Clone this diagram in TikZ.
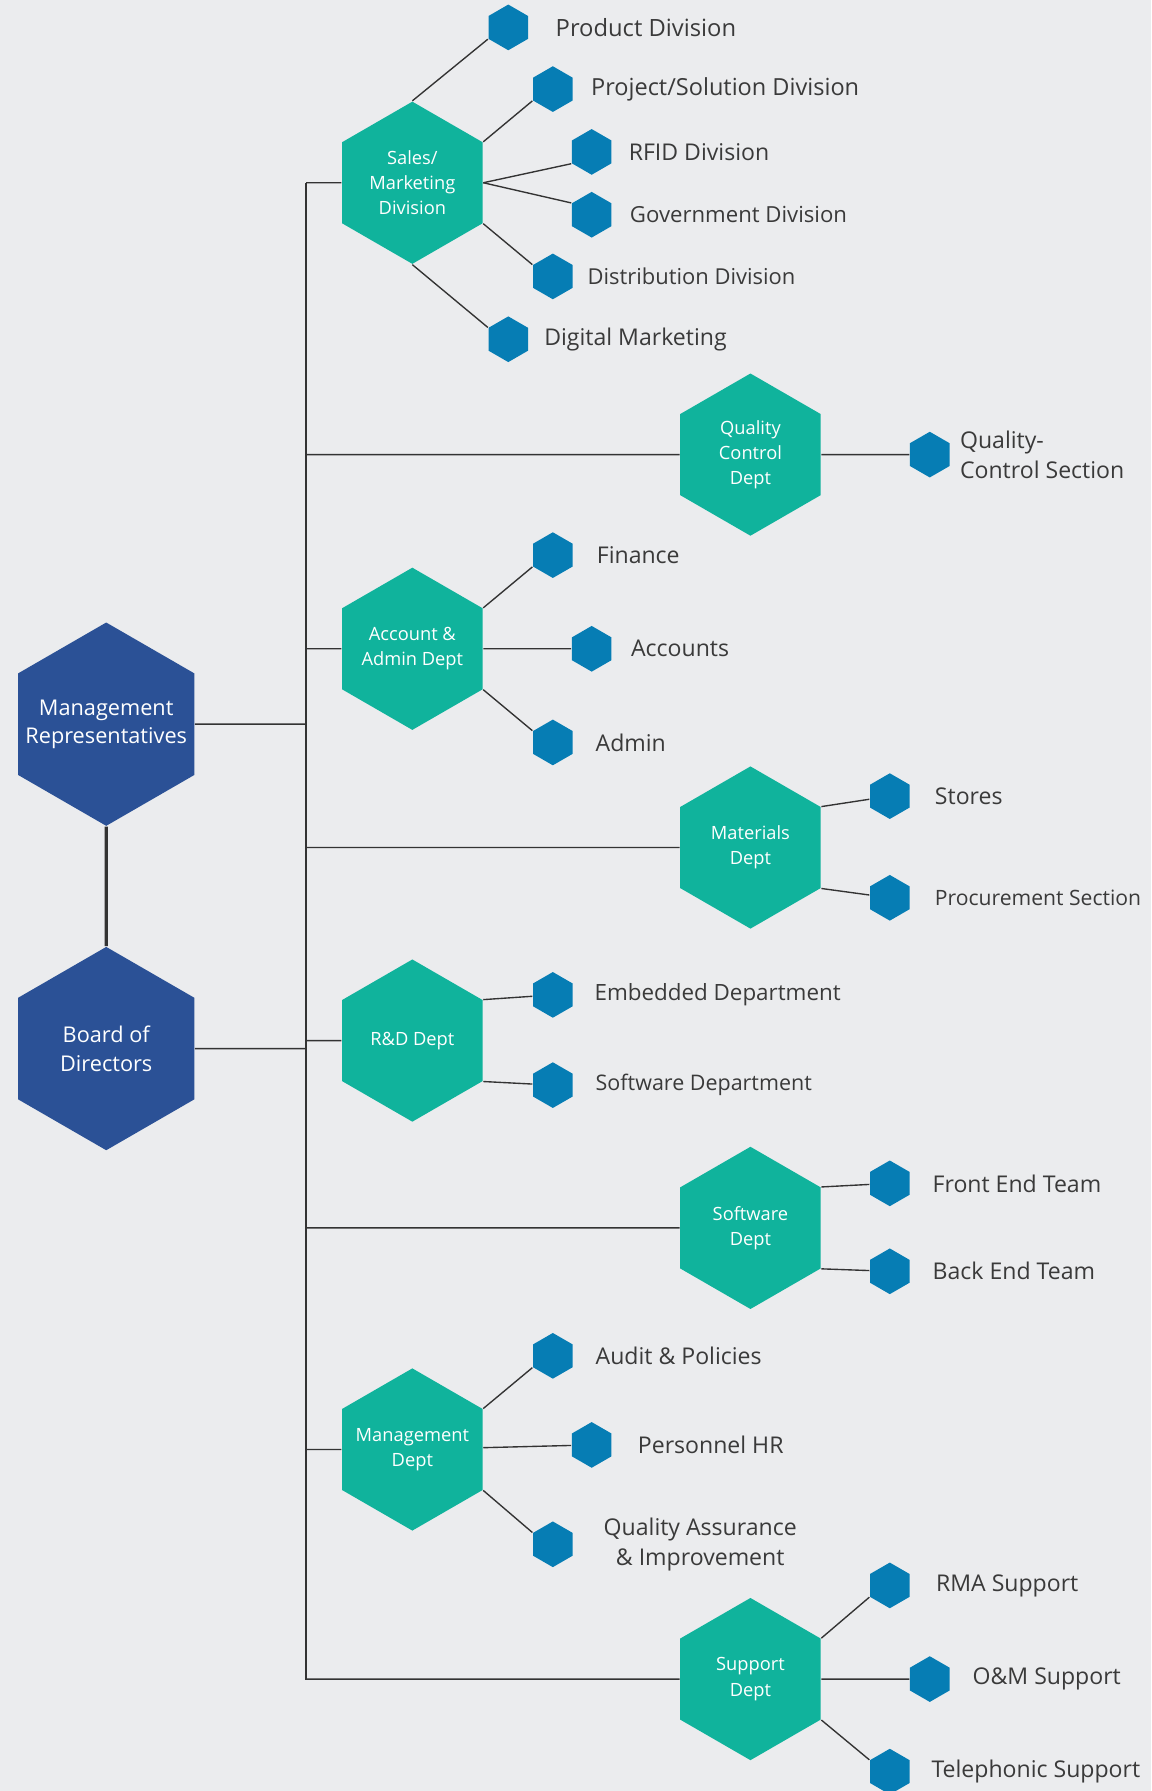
\documentclass[tikz,border=0pt]{standalone}
\usepackage{fontspec}
\setmainfont{Open Sans}
\usetikzlibrary{positioning,shapes.geometric}
\definecolor{bgcol}{HTML}{EBECEE}
\definecolor{navy}{HTML}{2B5196}
\definecolor{tealhex}{HTML}{10B39C}
\definecolor{leafblue}{HTML}{067DB4}
\definecolor{txtgray}{HTML}{3A3A3A}
\definecolor{linegray}{HTML}{333333}

\begin{document}
\begin{tikzpicture}[x=1pt,y=-1pt,line width=1.2pt,draw=linegray,
  hexa/.style={regular polygon,regular polygon sides=6,shape border rotate=30,inner sep=-20pt,align=center,text=white},
  top node/.style={hexa,minimum size=178pt,fill=navy,font=\fontsize{19}{25}\selectfont},
  dept node/.style={hexa,minimum size=142pt,fill=tealhex,font=\fontsize{16}{22}\selectfont},
  leaf node/.style={hexa,on grid,inner sep=0pt,minimum size=40pt,fill=leafblue},
  leaf text/.style={inner sep=0pt,text=txtgray,font=\fontsize{20.2}{26}\selectfont}]

  \fill[bgcol] (0,0) rectangle (1008,1568);
  \useasboundingbox (0,0) rectangle (1008,1568);

  % top of the chart
  \node[top node] (mgmt) at (93,634) {Management\\Representatives};
  \node[top node] (board) at (93,918) {Board of\\Directors};

  % departments
  \node[dept node] (sales) at (361,160) {Sales/\\Marketing\\Division};
  \node[dept node] (quality) at (657,398) {Quality\\Control\\Dept};
  \node[dept node] (account) at (361,568) {Account \&\\Admin Dept};
  \node[dept node] (materials) at (657,742) {Materials\\Dept};
  \node[dept node] (rnd) at (361,911) {R\&D Dept};
  \node[dept node] (software) at (657,1075) {Software\\Dept};
  \node[dept node] (mgmtdept) at (361,1269) {Management\\Dept};
  \node[dept node] (support) at (657,1470) {Support\\Dept};

  \coordinate (tTop) at (268,160);
  \coordinate (tBot) at (268,1471);

  % sales
  \node[leaf node] (prod) [above right=136pt and 84pt of sales] {};
  \node[leaf node] (proj) [above right=82pt and 123pt of sales] {};
  \node[leaf node] (rfid) [above right=27pt and 157pt of sales] {};
  \node[leaf node] (gov) [below right=28pt and 157pt of sales] {};
  \node[leaf node] (dist) [below right=82pt and 123pt of sales] {};
  \node[leaf node] (digi) [below right=137pt and 84pt of sales] {};
  \node[leaf text,font=\fontsize{20.8}{26}\selectfont] (prodtxt) [right=23pt of prod] {Product Division};
  \node[leaf text,font=\fontsize{20.6}{26}\selectfont] (projtxt) [right=15pt of proj] {Project/Solution Division};
  \node[leaf text] (rfidtxt) [right=14pt of rfid] {RFID Division};
  \node[leaf text,font=\fontsize{19.4}{26}\selectfont] (govtxt) [right=15pt of gov] {Government Division};
  \node[leaf text,font=\fontsize{19.2}{26}\selectfont] (disttxt) [right=12pt of dist] {Distribution Division};
  \node[leaf text] (digitxt) [right=13pt of digi] {Digital Marketing};

  % quality
  \node[leaf node] (qcs) [right=157pt of quality] {};
  \node[leaf text,align=left] (qcstxt) [right=8pt of qcs] {Quality-\\Control Section};

  % account
  \node[leaf node] (fin) [above right=82pt and 123pt of account] {};
  \node[leaf node] (accts) [right=157pt of account] {};
  \node[leaf node] (adm) [below right=82pt and 123pt of account] {};
  \node[leaf text] (fintxt) [right=20pt of fin] {Finance};
  \node[leaf text] (acctstxt) [right=16pt of accts] {Accounts};
  \node[leaf text] (admtxt) [right=19pt of adm] {Admin};

  % materials
  \node[leaf node] (stores) [above right=45pt and 122pt of materials] {};
  \node[leaf node] (procure) [below right=44pt and 122pt of materials] {};
  \node[leaf text] (storestxt) [right=21pt of stores] {Stores};
  \node[leaf text,font=\fontsize{18.5}{24}\selectfont] (procuretxt) [right=21pt of procure] {Procurement Section};

  % r&d
  \node[leaf node] (embed) [above right=40pt and 123pt of rnd] {};
  \node[leaf node] (swdep) [below right=39pt and 123pt of rnd] {};
  \node[leaf text,font=\fontsize{19.6}{26}\selectfont] (embedtxt) [right=18pt of embed] {Embedded Department};
  \node[leaf text,font=\fontsize{18.8}{24}\selectfont] (swdeptxt) [right=19pt of swdep] {Software Department};

  % software
  \node[leaf node] (front) [above right=39pt and 122pt of software] {};
  \node[leaf node] (back) [below right=38pt and 122pt of software] {};
  \node[leaf text] (fronttxt) [right=19pt of front] {Front End Team};
  \node[leaf text] (backtxt) [right=19pt of back] {Back End Team};

  % management dept
  \node[leaf node] (audit) [above right=82pt and 123pt of mgmtdept] {};
  \node[leaf node] (pers) [above right=4pt and 157pt of mgmtdept] {};
  \node[leaf node] (qa) [below right=83pt and 123pt of mgmtdept] {};
  \node[leaf text] (audittxt) [right=19pt of audit] {Audit \& Policies};
  \node[leaf text] (perstxt) [right=22pt of pers] {Personnel HR};
  \node[leaf text,align=center] (qatxt) [right=26pt of qa] {Quality Assurance\\\& Improvement};

  % support
  \node[leaf node] (rma) [above right=82pt and 122pt of support] {};
  \node[leaf node] (om) [right=157pt of support] {};
  \node[leaf node] (tel) [below right=81pt and 122pt of support] {};
  \node[leaf text] (rmatxt) [right=22pt of rma] {RMA Support};
  \node[leaf text] (omtxt) [right=19pt of om] {O\&M Support};
  \node[leaf text] (teltxt) [right=18pt of tel] {Telephonic Support};

  % trunk
  \draw[line width=3pt] (mgmt) -- (board);
  \draw (tTop) -- (tBot);
  \draw (mgmt) -- (mgmt -| tTop);
  \draw (board) -- (board -| tTop);
  \draw (sales) -- (sales -| tTop);
  \draw (quality) -- (quality -| tTop);
  \draw (account) -- (account -| tTop);
  \draw (materials) -- (materials -| tTop);
  \draw (rnd) -- (rnd -| tTop);
  \draw (software) -- (software -| tTop);
  \draw (mgmtdept) -- (mgmtdept -| tTop);
  \draw (support) -- (support -| tTop);

  % branches
  \draw (sales.90) -- (prod.210);
  \draw (sales.30) -- (proj.210);
  \draw (sales.0) -- (rfid.210);
  \draw (sales.0) -- (gov.150);
  \draw (sales.-30) -- (dist.150);
  \draw (sales.-90) -- (digi.150);
  \draw (quality) -- (qcs);
  \draw (account.30) -- (fin.210);
  \draw (account) -- (accts);
  \draw (account.-30) -- (adm.150);
  \draw (materials.30) -- (stores);
  \draw (materials.-30) -- (procure);
  \draw (rnd.30) -- (embed);
  \draw (rnd.-30) -- (swdep);
  \draw (software.30) -- (front);
  \draw (software.-30) -- (back);
  \draw (mgmtdept.30) -- (audit.210);
  \draw (mgmtdept) -- (pers);
  \draw (mgmtdept.-30) -- (qa.150);
  \draw (support.30) -- (rma.210);
  \draw (support) -- (om);
  \draw (support.-30) -- (tel.150);
\end{tikzpicture}
\end{document}
